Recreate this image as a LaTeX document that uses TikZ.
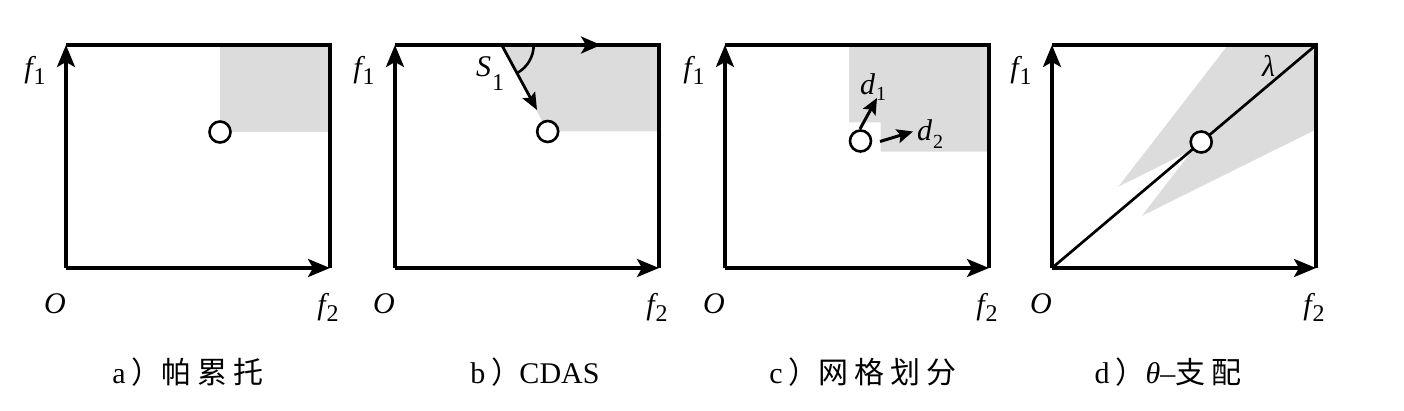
\documentclass[tikz,border=0pt]{standalone}
\usepackage{fontspec}
\setmainfont{Liberation Serif}
\newfontfamily\cjk{Noto Sans CJK SC}
\usetikzlibrary{arrows.meta}
\definecolor{shadegray}{RGB}{220,220,220}
\newcommand\lbl[4]{{\itshape #1}\kern0.5pt\raisebox{-#3}{\fontsize{#4}{#4}\selectfont #2}}
\newcommand\panelaxes[2]{%
  \coordinate (#1O) at (#2,268);
  \coordinate (#1T) at (#2,45);
  \coordinate (#1R) at (#2+264,268);
  \coordinate (#1TR) at (#2+264,45);
  \draw[frame] (#1T) -- (#1TR) -- (#1R);
  \draw[axis] (#1O) -- (#1T);
  \draw[axis] (#1O) -- (#1R);
  \node[lab] (#1f1) at (#2-31,70) {\lbl{f}{1}{3.5pt}{12}};
  \node[lab] (#1o) at (#2-11,304) {\itshape O};
  \node[lab] (#1f2) at (#2+262,307) {\lbl{f}{2}{3.5pt}{12}};
}
\begin{document}
\begin{tikzpicture}[x=0.5pt,y=-0.5pt,
  axis/.style={line width=1.6pt, -{Stealth[length=11pt,width=9pt,inset=2.5pt]}},
  frame/.style={line width=1.6pt, line join=miter},
  shade/.style={fill=shadegray, draw=none},
  pt/.style={circle, draw, line width=1.3pt, fill=white, minimum size=10.5pt, inner sep=0pt},
  lab/.style={font=\fontsize{15}{17}\selectfont, inner sep=0pt},
  captext/.style={font=\fontsize{15}{18}\selectfont, inner sep=0pt},
  smallarrow/.style={line width=1.5pt, -{Stealth[length=8pt,width=7pt,inset=1.5pt]}}
]
\useasboundingbox (0,0) rectangle (1404,411);

% ---------- panel a ----------
\fill[shade] (220,45) rectangle (330,132);
\panelaxes{a}{66}
\node[pt] (pa) at (220,132) {};
\node[captext] (capa) at (188,372) {a\kern3pt{\cjk ）}\kern0pt{\cjk 帕}\kern3pt{\cjk 累}\kern3pt{\cjk 托}};

% ---------- panel b ----------
\coordinate (bs) at (501.7,45);
\coordinate (bst) at (537,110);
\coordinate (bta) at (601,45);
\fill[shade] (bs) -- (659,45) -- (659,131.5) -- (547.7,131.5) -- cycle;
\panelaxes{b}{395}
\draw[line width=1.6pt, -{Stealth[length=10pt,width=8.5pt,inset=2.5pt]}] (bs) -- (bta);
\draw[line width=1.4pt, -{Stealth[length=8.5pt,width=7pt,inset=1.5pt]}] (bs) -- (bst);
\draw[line width=1.3pt] (bs) ++(16pt,0pt) arc[start angle=0, end angle=-60.5, radius=16pt];
\node[lab] (s1) at (490,74) {\lbl{S}{1}{7pt}{12}};
\node[pt] (pb) at (547.7,131.5) {};
\node[captext] (capb) at (535,372) {b\kern3pt{\cjk ）}\kern-1pt CDAS};

% ---------- panel c ----------
\fill[shade] (849,45) -- (989,45) -- (989,151.7) -- (880.7,151.7) -- (880.7,122.3) -- (849,122.3) -- cycle;
\panelaxes{c}{725}
\node[pt] (pc) at (860.5,141) {};
\coordinate (d1s) at (860,129);
\coordinate (d1e) at (877,98);
\coordinate (d2s) at (880,141.5);
\coordinate (d2e) at (913,131.5);
\draw[smallarrow] (d1s) -- (d1e);
\draw[smallarrow] (d2s) -- (d2e);
\node[lab] (d1) at (873,87) {\lbl{d}{1}{3pt}{10}};
\node[lab] (d2) at (930,134) {\lbl{d}{2}{4pt}{10}};
\node[captext] (capc) at (863,372) {c\kern3pt{\cjk ）}\kern0pt{\cjk 网}\kern3pt{\cjk 格}\kern3pt{\cjk 划}\kern3pt{\cjk 分}};

% ---------- panel d ----------
\fill[shade] (1118.3,186.7) -- (1228,45) -- (1315,45) -- (1315,130) -- (1141.7,216) -- (1193,149.5) -- cycle;
\panelaxes{d}{1052}
\draw[line width=1.35pt] (dO) -- (dTR);
\node[pt] (pd) at (1201.2,142) {};
\node[lab] (lam) at (1268.5,66) {\itshape λ};
\node[captext] (capd) at (1168,372) {d\kern3pt{\cjk ）}\kern0pt{\itshape θ}–{\cjk 支}\kern3pt{\cjk 配}};
\end{tikzpicture}
\end{document}
